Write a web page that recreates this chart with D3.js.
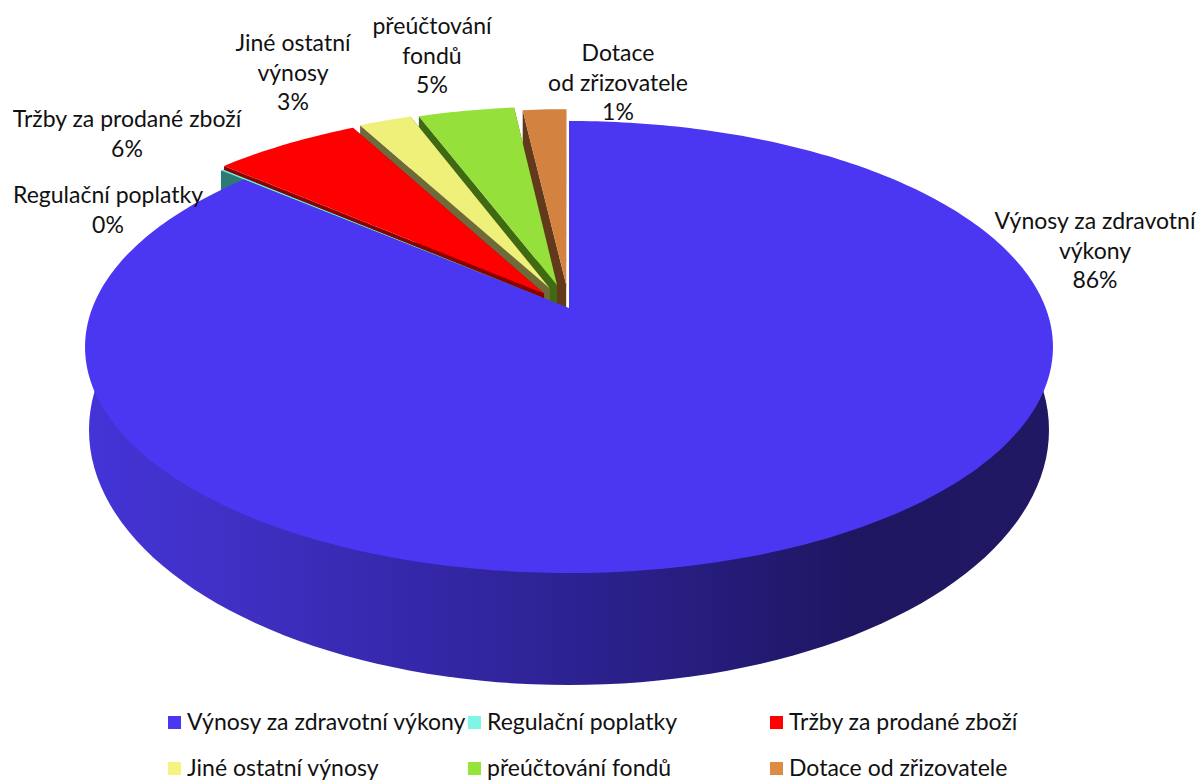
<!DOCTYPE html>
<html>
<head>
<meta charset="utf-8">
<script src="https://cdn.jsdelivr.net/npm/d3@7"></script>
<style>
  html, body { margin: 0; padding: 0; background: #fff; }
  svg { display: block; }
  text { font-family: Lato, "Liberation Sans", sans-serif; fill: #111; }
</style>
</head>
<body>
<svg id="chart" width="1200" height="780"></svg>
<script>
const categories = ["Výnosy za zdravotní výkony", "Regulační poplatky", "Tržby za prodané zboží",
  "Jiné ostatní výnosy", "přeúčtování fondů", "Dotace od zřizovatele"];
// printed percentages
const percentLabels = ["86%", "0%", "6%", "3%", "5%", "1%"];
// share of the circle each slice really takes up in the picture (differs a bit from the printed labels)
const sliceShares = [86.3, 0.1, 5.8, 2.1, 3.9, 1.8];
const labelLines = [
  ["Výnosy za zdravotní", "výkony"],
  ["Regulační poplatky"],
  ["Tržby za prodané zboží"],
  ["Jiné ostatní", "výnosy"],
  ["přeúčtování", "fondů"],
  ["Dotace", "od zřizovatele"]
];

const faceColors = ["#4b36f2", "#70f0e0", "#ff0000", "#eff07a", "#95e03a", "#d4823f"];
const wallColors = ["#2c2190", "#2d7a74", "#8b0000", "#6f6a3a", "#3f6a12", "#62391a"];
const legendColors = ["#4b36f2", "#7ff5e6", "#ff0000", "#f4f47f", "#96e33a", "#dd8a42"];

// where each label block is centred: x, first line y
const labelAnchors = [[1095, 229], [108, 203], [127, 127], [293, 51], [432, 34], [618, 61]];
const labelPitch = 29.5;

const svg = d3.select("#chart");
const defs = svg.append("defs");

// perspective pie plane: top of the pie is further away
const apexX = 569, apexY = 308;
const persp = 0.1726, scaleU = 476.7, scaleV = 219.3;
const wallDrop = 60;
// how far each slice is pulled out, and its radius
const explodeBy = [0, 0.08, 0.085, 0.1, 0.11, 0.11];
const radiusBy = [1, 1, 1.01, 1.0, 0.985, 0.965];

function project(u, v) {
  const w = 1 - persp * v;
  return [apexX + scaleU * u / w, apexY + scaleV * v / w];
}

const pie = d3.pie().sort(null).value(d => d);
const arcs = pie(sliceShares);
const line = d3.line();

function sliceOutline(d, off, radius) {
  const mid = (d.startAngle + d.endAngle) / 2;
  const ou = off * Math.sin(mid), ov = -off * Math.cos(mid);
  const n = Math.max(4, Math.ceil((d.endAngle - d.startAngle) * 60));
  const pts = d3.range(n + 1).map(i => {
    const a = d.startAngle + (d.endAngle - d.startAngle) * i / n;
    return project(radius * Math.sin(a) + ou, -radius * Math.cos(a) + ov);
  });
  return { tip: project(ou, ov), rim: pts };
}

// side of the big slice: lower part of a bottom ellipse, top face goes over it
const baseCx = 569, baseCy = 430, baseRx = 480, baseRy = 255;
const sideGrad = defs.append("linearGradient").attr("id", "sideGrad")
  .attr("gradientUnits", "userSpaceOnUse")
  .attr("x1", 90).attr("x2", 1050).attr("y1", 0).attr("y2", 0);
[[0, "#4433d6"], [0.12, "#4131c8"], [0.35, "#3527a8"], [0.5, "#2d2292"], [0.68, "#241b76"], [0.8, "#1e1660"], [1, "#201862"]]
  .forEach(s => sideGrad.append("stop").attr("offset", s[0]).attr("stop-color", s[1]));

const t0 = -0.3;
const basePts = d3.range(0, 101).map(i => {
  const t = t0 + (Math.PI - 2 * t0) * i / 100;
  return [baseCx + baseRx * Math.cos(t), baseCy + baseRy * Math.sin(t)];
});
svg.append("path").attr("d", line(basePts) + "Z").attr("fill", "url(#sideGrad)");

// painter's order: back slices first, big slice last
d3.range(arcs.length - 1, -1, -1).forEach(i => {
  const d = arcs[i];
  const s = sliceOutline(d, explodeBy[i], radiusBy[i]);
  if (i !== 0) {
    const first = s.rim[0], last = s.rim[s.rim.length - 1];
    [first, last].forEach(p => {
      const quad = [s.tip, p, [p[0], p[1] + wallDrop], [s.tip[0], s.tip[1] + wallDrop]];
      svg.append("path").attr("d", line(quad) + "Z").attr("fill", wallColors[i]);
    });
  }
  svg.append("path")
    .attr("d", line([s.tip, ...s.rim]) + "Z")
    .attr("fill", faceColors[i]);
});

// data labels
categories.forEach((c, i) => {
  const rows = [...labelLines[i], percentLabels[i]];
  const g = svg.append("g").attr("text-anchor", "middle").style("font-size", "23px");
  rows.forEach((t, r) => {
    g.append("text").attr("x", labelAnchors[i][0]).attr("y", labelAnchors[i][1] + r * labelPitch).text(t);
  });
});

// legend
const legendCols = [168, 468, 770], legendRows = [722, 768];
categories.forEach((c, i) => {
  const x = legendCols[i % 3], y = legendRows[Math.floor(i / 3)];
  svg.append("rect").attr("x", x).attr("y", y - 6).attr("width", 13).attr("height", 13).attr("fill", legendColors[i]);
  svg.append("text").attr("x", x + 19).attr("y", y + 8).style("font-size", "23px").text(c);
});
</script>
</body>
</html>
